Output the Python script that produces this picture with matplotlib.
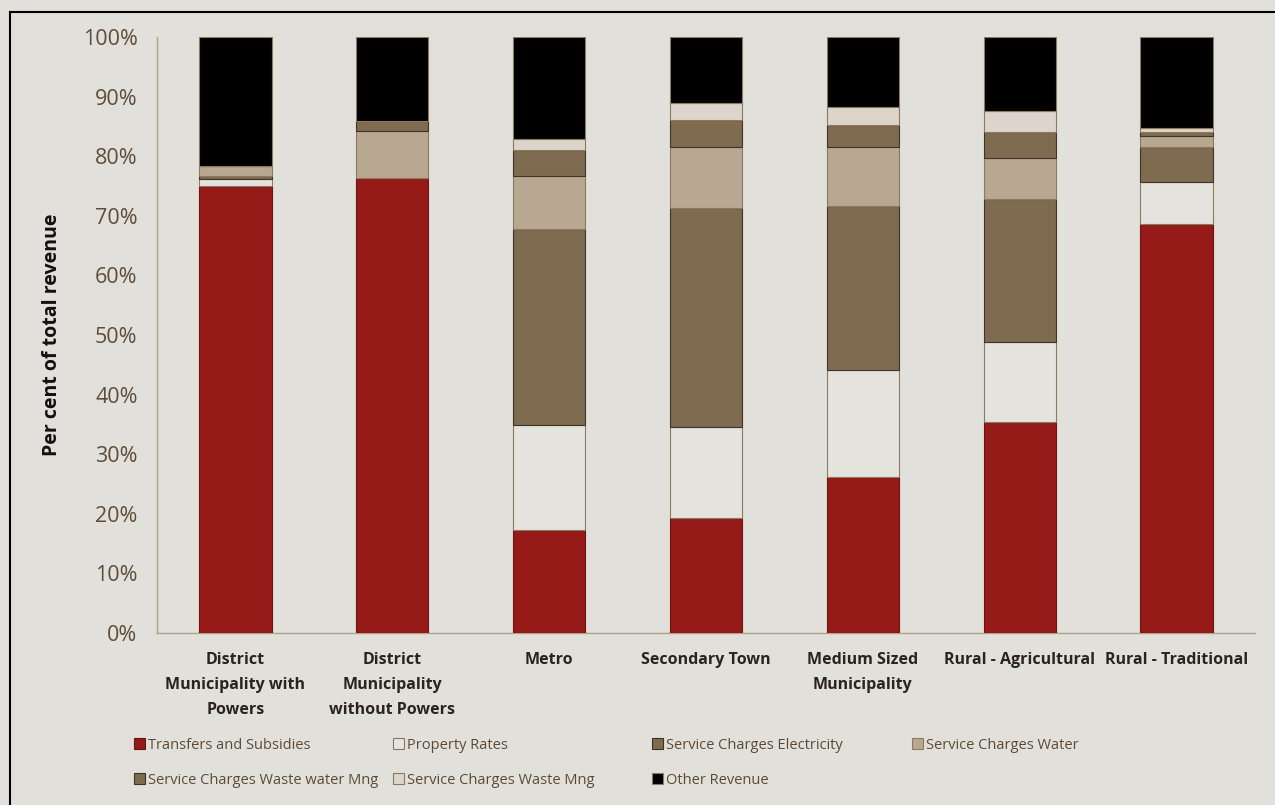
import numpy as np
import matplotlib
matplotlib.use("Agg")
import matplotlib.pyplot as plt
from matplotlib.lines import Line2D

# ---------------- data ----------------
categories = [
    "District\nMunicipality with\nPowers",
    "District\nMunicipality\nwithout Powers",
    "Metro",
    "Secondary Town",
    "Medium Sized\nMunicipality",
    "Rural - Agricultural",
    "Rural - Traditional",
]
series_names = [
    "Transfers and Subsidies",
    "Property Rates",
    "Service Charges Electricity",
    "Service Charges Water",
    "Service Charges Waste water Mng",
    "Service Charges Waste Mng",
    "Other Revenue",
]
transfers = [75.0, 76.3, 17.3, 19.3, 26.1, 35.4, 68.6]
property_rates = [1.1, 0.0, 17.6, 15.2, 18.0, 13.4, 7.0]
electricity = [0.6, 0.0, 32.9, 36.8, 27.6, 24.0, 6.0]
water = [1.7, 8.0, 8.8, 10.2, 9.9, 6.9, 1.8]
waste_water = [0.0, 1.6, 4.4, 4.5, 3.7, 4.4, 0.7]
waste_mng = [0.0, 0.0, 1.9, 3.0, 3.0, 3.5, 0.7]
other_revenue = [21.6, 14.1, 17.1, 11.0, 11.7, 12.4, 15.2]
ytick_values = [0, 10, 20, 30, 40, 50, 60, 70, 80, 90, 100]
ytick_labels = ["0%", "10%", "20%", "30%", "40%", "50%", "60%", "70%", "80%", "90%", "100%"]

# ---------------- style ----------------
BG = "#e1e0db"
face_colors = ["#951a18", "#e5e3de", "#7f6b50", "#b8a891", "#7f6b50", "#ddd5cb", "#000000"]
edge_colors = ["#6a1512", "#8c7a5e", "#3f3427", "#8c7a5e", "#3f3427", "#8c7a5e", "#8c7a5e"]
TICK_COLOR = "#5e4d39"
LABEL_COLOR = "#2a241d"

W, H = 1275, 805
fig = plt.figure(figsize=(W / 100, H / 100), dpi=100, facecolor=BG)
ax = fig.add_axes([157 / W, 1 - 633 / H, (1255 - 157) / W, (633 - 37) / H])
ax.set_facecolor(BG)

all_series = [transfers, property_rates, electricity, water, waste_water, waste_mng, other_revenue]
x = np.arange(len(categories))
bottom = np.zeros(len(categories))
containers = []
for name, vals, fc, ec in zip(series_names, all_series, face_colors, edge_colors):
    vals = np.array(vals, dtype=float)
    c = ax.bar(x, vals, 0.46, bottom=bottom, color=fc, edgecolor=ec,
               linewidth=0.8, label=name, zorder=3)
    containers.append(c)
    bottom += vals

ax.set_xlim(-0.5, len(categories) - 0.5)
ax.set_ylim(0, 100)
ax.set_yticks(ytick_values)
ax.set_yticklabels(ytick_labels, fontfamily="Open Sans", fontsize=15.5, color=TICK_COLOR)
ax.set_xticks(x)
ax.set_xticklabels(categories, fontfamily="Open Sans", fontweight="bold", fontsize=11.5,
                   color=LABEL_COLOR, linespacing=1.75, va="top")
ax.tick_params(axis="both", length=0)
ax.tick_params(axis="y", pad=14)
ax.tick_params(axis="x", pad=14)

for s in ["top", "right"]:
    ax.spines[s].set_visible(False)
for s in ["left", "bottom"]:
    ax.spines[s].set_color("#b3a288")
    ax.spines[s].set_linewidth(1.0)

ax.set_ylabel("Per cent of total revenue", fontfamily="Open Sans", fontweight="bold",
              fontsize=14, color="#111111")
ax.yaxis.set_label_coords((62 - 157) / (1255 - 157), 0.5)

# legend: one entry per slot, Excel-like row-major layout
legend_slots = [(134, 745), (393, 745), (652, 745), (912, 745),
                (134, 780), (393, 780), (652, 780)]
for cont, name, (lx, ly) in zip(containers, series_names, legend_slots):
    lg = fig.legend(handles=[cont], labels=[name], loc="center left",
                    bbox_to_anchor=(lx / W, 1 - ly / H), frameon=False,
                    borderpad=0, borderaxespad=0, handlelength=0.75, handleheight=0.7,
                    handletextpad=0.2, prop={"family": "Open Sans", "size": 10.5})
    for t in lg.get_texts():
        t.set_color("#5c4a36")

# outer frame (left and top lines)
fig.add_artist(Line2D([9.5 / W, 9.5 / W], [0, 1 - 12 / H], color="black", linewidth=1.5,
                      transform=fig.transFigure))
fig.add_artist(Line2D([9.5 / W, 1], [1 - 12 / H, 1 - 12 / H], color="black", linewidth=1.5,
                      transform=fig.transFigure))

fig.savefig("out.png", dpi=100, facecolor=BG)
